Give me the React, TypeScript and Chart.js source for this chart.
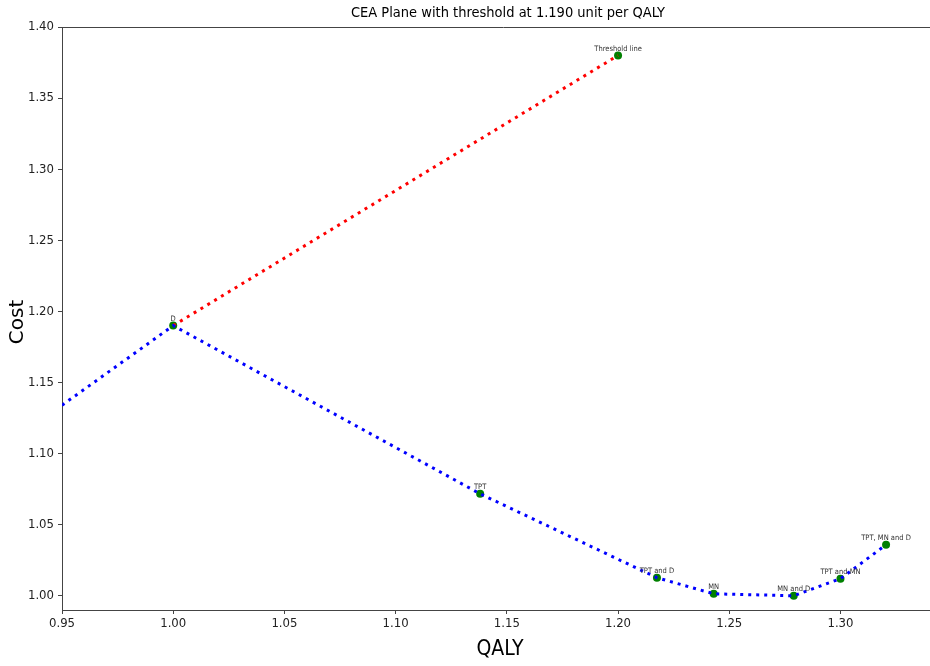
import React, { useEffect, useRef } from "react";
import { Chart, registerables } from "chart.js";

Chart.register(...registerables);

const labels = ["D", "TPT", "TPT and D", "MN", "MN and D", "TPT and MN", "TPT, MN and D", "Threshold line"];
const qaly = [1.0, 1.138, 1.2175, 1.243, 1.279, 1.3, 1.3205, 1.2];
const cost = [1.19, 1.0717, 1.0127, 1.0014, 1.0, 1.012, 1.0359, 1.38];

const frontierQaly = [0.95, 1.0, 1.138, 1.2175, 1.243, 1.279, 1.3, 1.3205];
const frontierCost = [1.134, 1.19, 1.0717, 1.0127, 1.0014, 1.0, 1.012, 1.0359];

const thresholdQaly = [1.0, 1.2];
const thresholdCost = [1.19, 1.38];

const xTicks = [0.95, 1.0, 1.05, 1.1, 1.15, 1.2, 1.25, 1.3];
const yTicks = [1.0, 1.05, 1.1, 1.15, 1.2, 1.25, 1.3, 1.35, 1.4];

const titleText = "CEA Plane with threshold at 1.190 unit per QALY";
const xTitle = "QALY";
const yTitle = "Cost";

const NARROW = '"Liberation Sans Narrow", "DejaVu Sans Condensed", sans-serif';

export default function App() {
  const ref = useRef<HTMLCanvasElement | null>(null);

  useEffect(() => {
    const canvas = ref.current;
    if (!canvas) return;

    const overlay = {
      id: "overlay",
      afterDraw(chart: any) {
        const { ctx, chartArea } = chart;
        ctx.save();
        ctx.strokeStyle = "#444";
        ctx.lineWidth = 1;
        ctx.beginPath();
        ctx.moveTo(chartArea.left, chartArea.top + 0.5);
        ctx.lineTo(chartArea.right, chartArea.top + 0.5);
        ctx.stroke();

        ctx.fillStyle = "#000";
        ctx.font = `14.5px ${NARROW}`;
        ctx.textAlign = "center";
        ctx.textBaseline = "middle";
        ctx.fillText(titleText, 508, 13);

        ctx.font = `21px ${NARROW}`;
        ctx.fillText(xTitle, 500, 650);

        ctx.save();
        ctx.translate(18, 322);
        ctx.rotate(-Math.PI / 2);
        ctx.font = `20px "DejaVu Sans", sans-serif`;
        ctx.fillText(yTitle, 0, 0);
        ctx.restore();

        const xs = chart.scales.x;
        const ys = chart.scales.y;
        ctx.font = `7.5px ${NARROW}`;
        ctx.fillStyle = "#333";
        ctx.textBaseline = "bottom";
        for (let i = 0; i < labels.length; i++) {
          const px = xs.getPixelForValue(qaly[i]);
          const py = ys.getPixelForValue(cost[i]);
          ctx.fillText(labels[i], px, py - 3);
        }
        ctx.restore();
      },
    };

    const tickFont = { family: NARROW, size: 13 };

    const chart = new Chart(canvas, {
      type: "scatter",
      data: {
        datasets: [
          {
            data: frontierQaly.map((x, i) => ({ x, y: frontierCost[i] })),
            showLine: true,
            borderColor: "#0000ff",
            borderWidth: 3,
            borderDash: [3, 5],
            pointRadius: 0,
            tension: 0,
            order: 1,
          },
          {
            data: thresholdQaly.map((x, i) => ({ x, y: thresholdCost[i] })),
            showLine: true,
            borderColor: "#ff0000",
            borderWidth: 3,
            borderDash: [3, 5],
            pointRadius: 0,
            order: 2,
          },
          {
            data: qaly.map((x, i) => ({ x, y: cost[i] })),
            showLine: false,
            pointRadius: 4,
            pointBackgroundColor: "#008000",
            pointBorderWidth: 0,
            order: 3,
          },
        ],
      },
      options: {
        responsive: false,
        animation: false,
        events: [],
        layout: { padding: { top: 27, left: 0, right: 0, bottom: 0 }, autoPadding: false },
        plugins: { legend: { display: false }, tooltip: { enabled: false }, title: { display: false } },
        scales: {
          x: {
            type: "linear",
            min: 0.95,
            max: 1.347,
            afterFit: (s: any) => {
              s.height = 56;
            },
            afterBuildTicks: (s: any) => {
              s.ticks = xTicks.map((v) => ({ value: v }));
            },
            ticks: {
              autoSkip: false,
              maxRotation: 0,
              font: tickFont,
              color: "#222",
              padding: 2,
              callback: (v: any) => Number(v).toFixed(2),
            },
            grid: { drawOnChartArea: false, drawTicks: true, tickLength: 4, color: "#444" },
            border: { color: "#444", width: 1 },
          },
          y: {
            type: "linear",
            min: 0.99,
            max: 1.4,
            afterFit: (s: any) => {
              s.width = 62;
            },
            afterBuildTicks: (s: any) => {
              s.ticks = yTicks.map((v) => ({ value: v }));
            },
            ticks: {
              autoSkip: false,
              font: tickFont,
              color: "#222",
              padding: 4,
              callback: (v: any) => Number(v).toFixed(2),
            },
            grid: { drawOnChartArea: false, drawTicks: true, tickLength: 4, color: "#444" },
            border: { color: "#444", width: 1 },
          },
        },
      },
      plugins: [overlay],
    });

    return () => chart.destroy();
  }, []);

  return (
    <div style={{ position: "absolute", left: 0, top: 0, width: 930, height: 666, overflow: "hidden", background: "#fff" }}>
      <canvas ref={ref} width={945} height={666} style={{ display: "block" }} />
    </div>
  );
}
